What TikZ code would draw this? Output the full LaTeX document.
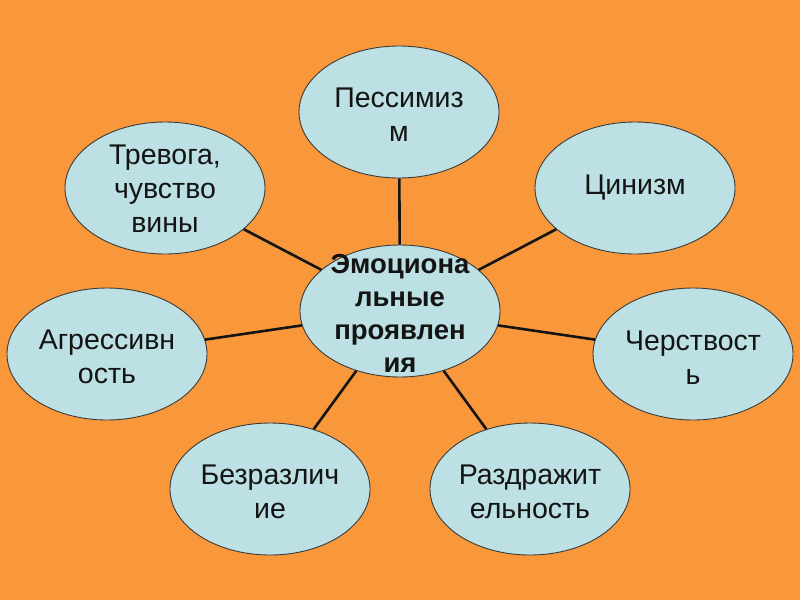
\documentclass[tikz,border=0pt]{standalone}
\usepackage{fontspec}
\setmainfont{Liberation Sans}
\usetikzlibrary{shapes.geometric}
\definecolor{bgorange}{HTML}{F8983A}
\definecolor{bubble}{HTML}{BCE0E3}
\definecolor{rim}{HTML}{3A3A3A}
\definecolor{ink}{HTML}{141414}
\tikzset{
  bubble/.style={ellipse, minimum width=200pt, minimum height=132pt, inner sep=0pt,
    draw=rim, line width=0.9pt, fill=bubble},
  txt/.style={align=center, text=ink, inner sep=0pt, font=\fontsize{28.5}{34}\selectfont},
  btxt/.style={txt, font=\fontsize{27.5}{33}\selectfont\bfseries},
  link/.style={draw=ink, line width=2.6pt}
}
\begin{document}
\begin{tikzpicture}[x=1pt,y=-1pt]
\fill[bgorange] (0,0) rectangle (800,600);
\useasboundingbox (0,0) rectangle (800,600);
\node[bubble] (c) at (400,311) {};
\node[bubble] (p) at (399,112) {};
\node[bubble] (z) at (635,188) {};
\node[bubble] (t) at (165,188) {};
\node[bubble] (a) at (107,354) {};
\node[bubble] (ch) at (693,354) {};
\node[bubble] (b) at (270,489) {};
\node[bubble] (r) at (530,489) {};
\foreach \n in {p,z,t,a,ch,b,r} \draw[link] (c) -- (\n);
\node[btxt] (ct) at (400,313) {Эмоциона\\льные\\проявлен\\ия};
\node[txt] (pt) at (399,115) {Пессимиз\\м};
\node[txt] (zt) at (635,188) {Цинизм};
\node[txt] (tt) at (165,189) {Тревога,\\чувство\\вины};
\node[txt] (at) at (107,357) {Агрессивн\\ость};
\node[txt] (cht) at (693,358) {Черствост\\ь};
\node[txt] (bt) at (270,492) {Безразлич\\ие};
\node[txt] (rt) at (530,492) {Раздражит\\ельность};
\end{tikzpicture}
\end{document}
